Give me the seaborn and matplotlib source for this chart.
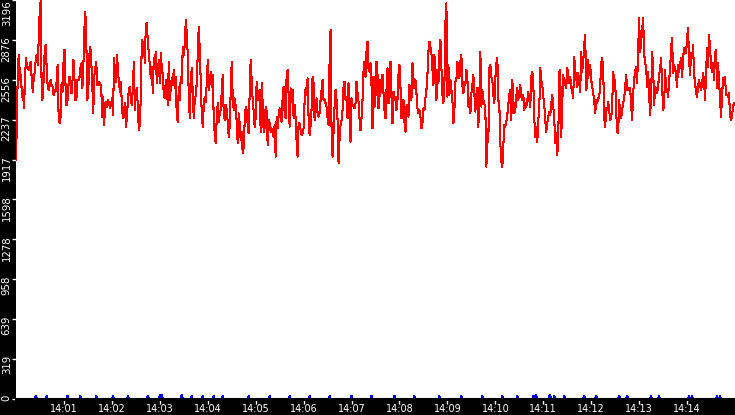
import numpy as np
import pandas as pd
import matplotlib
matplotlib.use("Agg")
import matplotlib.pyplot as plt
from matplotlib.transforms import ScaledTranslation
import seaborn as sns

# ---- red series in six 2.5-minute blocks ----
seg1 = [1914,
        2275, 2702, 2755, 2555, 2595, 2422, 2475, 2328, 2529, 2729,
        2675, 2649, 2635, 2675, 2702, 2542, 2462, 2582, 2622, 2729,
        2755, 2675, 2889, 3116, 3196, 2395, 2408, 2582, 2796, 2836,
        2649, 2502, 2475, 2515, 2555, 2515, 2502, 2435, 2475, 2462,
        2542, 2675, 2275, 2208, 2262, 2529, 2462, 2702, 2796, 2515,
        2355, 2395, 2515, 2582, 2555, 2448, 2542, 2715, 2569, 2395,
        2408, 2555, 2555, 2569, 2649, 2689, 2489, 2662, 2956, 3103,
        2876, 2395, 2462, 2755, 2822, 2702, 2529, 2288, 2582, 2649,
        2702, 2515, 2515, 2542, 2515, 2515, 2262, 2422, 2195, 2368,
        2382, 2342, 2395, 2368, 2328, 2368, 2408, 2275, 2729, 2609,
        2542, 2755, 2622, 2529, 2462, 2542, 2328, 2248, 2302, 2368,
        2181, 2262, 2395, 2475, 2502, 2395, 2355, 2502, 2702, 2315]
seg2 = [2448, 2489, 2342, 2155, 2195, 2435, 2876, 2809, 2862, 2689,
        2996, 3009, 2862, 2769, 2675, 2569, 2662, 2448, 2729, 2689,
        2782, 2529, 2622, 2715, 2529, 2769, 2649, 2595, 2435, 2408,
        2555, 2529, 2355, 2702, 2395, 2489, 2569, 2515, 2635, 2489,
        2582, 2248, 2221, 2502, 2395, 2582, 2529, 2822, 2755, 2836,
        3036, 2929, 2755, 2435, 2248, 2529, 2649, 2448, 2248, 2395,
        2435, 2529, 2769, 2982, 2796, 2542, 2288, 2181, 2342, 2422,
        2382, 2529, 2715, 2475, 2529, 2622, 2502, 2595, 2248, 2128,
        2048, 2248, 2368, 2221, 2288, 2315, 2462, 2595, 2288, 2235,
        2355, 2315, 2221, 2101, 2181, 2462, 2702, 2422, 2315, 2408,
        2342, 2221, 2048, 2288, 2208, 2075, 2141, 1968, 2021, 2221,
        2342, 2315, 2195, 2128, 2462, 2715, 2555, 2395, 2302, 2181]
seg3 = [2248, 2542, 2395, 2435, 2475, 2141, 2529, 2368, 2141, 2168,
        2342, 2302, 2035, 2235, 2208, 2141, 2168, 2128, 2101, 2195,
        1941, 2262, 2168, 2275, 2328, 2262, 2221, 2408, 2502, 2288,
        2248, 2595, 2635, 2435, 2181, 2489, 2382, 2475, 2248, 2355,
        2248, 2061, 1941, 2208, 2208, 2155, 2115, 2128, 2168, 2382,
        2489, 2435, 2569, 2248, 2115, 2195, 2328, 2582, 2529, 2235,
        2315, 2408, 2288, 2262, 2288, 2395, 2475, 2555, 2395, 2395,
        2368, 2342, 2248, 2195, 2702, 2956, 2155, 1941, 2141, 2342,
        2475, 2395, 2235, 1888, 2088, 2195, 2235, 2315, 2502, 2542,
        2395, 2422, 2248, 2529, 2248, 2061, 2408, 2355, 2342, 2328,
        2368, 2542, 2448, 2382, 2248, 2155, 2248, 2395, 2622, 2702,
        2582, 2782, 2862, 2649, 2622, 2689, 2515, 2168, 2582, 2342]
seg4 = [2435, 2702, 2595, 2328, 2422, 2555, 2462, 2595, 2448, 2315,
        2248, 2475, 2649, 2368, 2569, 2702, 2422, 2208, 2462, 2395,
        2422, 2315, 2395, 2595, 2675, 2502, 2248, 2395, 2395, 2221,
        2141, 2342, 2355, 2262, 2515, 2395, 2408, 2689, 2569, 2489,
        2555, 2448, 2328, 2288, 2315, 2262, 2168, 2208, 2328, 2315,
        2408, 2475, 2595, 2782, 2862, 2822, 2769, 2635, 2515, 2755,
        2555, 2395, 2635, 2529, 2782, 2876, 2662, 2435, 2368, 2515,
        3009, 3169, 2422, 2675, 2435, 2555, 2475, 2395, 2208, 2315,
        2542, 2555, 2702, 2622, 2569, 2702, 2755, 2515, 2448, 2542,
        2515, 2635, 2569, 2342, 2408, 2288, 2448, 2515, 2595, 2448,
        2302, 2435, 2489, 2181, 2435, 2782, 2342, 2475, 2395, 2368,
        2315, 1861, 2075, 2061, 2649, 2675, 2582, 2555, 2435, 2368]
seg5 = [2569, 2689, 2729, 2395, 2355, 2048, 1901, 1861, 2035, 2195,
        2181, 2221, 2275, 2355, 2435, 2475, 2235, 2555, 2395, 2288,
        2315, 2422, 2489, 2395, 2448, 2515, 2422, 2395, 2435, 2315,
        2368, 2342, 2395, 2462, 2395, 2342, 2582, 2622, 2529, 2248,
        2101, 2181, 2061, 2235, 2328, 2649, 2555, 2515, 2422, 2355,
        2235, 2141, 2208, 2262, 2302, 2275, 2368, 2435, 2342, 2248,
        2048, 2128, 1954, 2075, 2622, 2635, 2101, 2368, 2595, 2515,
        2555, 2489, 2649, 2595, 2529, 2582, 2502, 2462, 2408, 2742,
        2635, 2569, 2502, 2609, 2529, 2462, 2782, 2622, 2702, 2836,
        2916, 2475, 2515, 2715, 2595, 2675, 2555, 2502, 2448, 2395,
        2288, 2395, 2368, 2408, 2422, 2502, 2689, 2729, 2649, 2262,
        2181, 2328, 2315, 2382, 2315, 2235, 2248, 2355, 2622, 2542]
seg6 = [2555, 2302, 2141, 2128, 2395, 2288, 2248, 2315, 2368, 2408,
        2502, 2595, 2475, 2489, 2475, 2489, 2355, 2235, 2448, 2555,
        2622, 2662, 2529, 2782, 3049, 2782, 2862, 2956, 3049, 2769,
        2689, 2662, 2502, 2622, 2448, 2275, 2422, 2782, 2662, 2355,
        2502, 2475, 2448, 2502, 2595, 2649, 2729, 2529, 2315, 2342,
        2635, 2489, 2475, 2422, 2555, 2635, 2809, 2889, 2609, 2675,
        2649, 2595, 2502, 2675, 2622, 2675, 2729, 2582, 2729, 2809,
        2769, 2769, 2889, 2969, 2715, 2595, 2769, 2729, 2836, 2595,
        2542, 2448, 2422, 2502, 2555, 2515, 2475, 2515, 2609, 2555,
        2395, 2595, 2809, 2662, 2916, 2809, 2675, 2622, 2689, 2555,
        2769, 2796, 2489, 2689, 2555, 2408, 2262, 2408, 2569, 2542,
        2582, 2435, 2435, 2422, 2448, 2275, 2235, 2262, 2342, 2368]

# ---- blue series: near zero with small blips (seconds after 14:00) ----
blue_spike_seconds = [25, 39, 64, 81, 101, 122, 140, 165, 180, 182, 207, 220,
                      234, 247, 259, 291, 317, 342, 367, 392, 420, 445, 474,
                      499, 530, 557, 584, 609, 627, 647, 650, 651, 667, 669,
                      674, 686, 711, 726, 755, 765, 795, 805, 842, 846, 877, 881]
blue_spike_values = [24, 24, 24, 24, 24, 24, 24, 24, 32, 32, 32, 24,
                     24, 24, 24, 24, 24, 24, 24, 24, 24, 24, 24,
                     24, 24, 24, 24, 24, 24, 28, 28, 28, 28, 28,
                     24, 24, 24, 24, 24, 24, 24, 24, 24, 24, 24, 24]

y_tick_labels = ["0", "319", "639", "958", "1278", "1598", "1917",
                 "2237", "2556", "2876", "3196"]
x_tick_labels = ["14:01", "14:02", "14:03", "14:04", "14:05", "14:06", "14:07",
                 "14:08", "14:09", "14:10", "14:11", "14:12", "14:13", "14:14"]

day = "2024-01-01 "
start = pd.Timestamp(day + "14:00:00")
end = pd.Timestamp(day + "14:15:00")
block_seconds = 150

times, vals = [], []
for k, seg in enumerate([seg1, seg2, seg3, seg4, seg5, seg6]):
    n = len(seg)
    for i, v in enumerate(seg):
        times.append(start + pd.Timedelta(seconds=block_seconds * k + i * block_seconds / n))
        vals.append(v)
red = pd.DataFrame({"time": times, "value": vals})

tsec = np.array([(t - start).total_seconds() for t in times])
blue_vals = np.zeros(len(times))
for s, v in zip(blue_spike_seconds, blue_spike_values):
    blue_vals[int(np.argmin(np.abs(tsec - s)))] = v
blue = pd.DataFrame({"time": times, "value": blue_vals})

sns.set_style("white")
plt.rcParams["font.family"] = ["DejaVu Sans"]

W, H = 735, 415
fig = plt.figure(figsize=(W / 100, H / 100), dpi=100, facecolor="black")
ax = fig.add_axes([16 / W, 16 / H, 719 / W, 399 / H])
ax.set_facecolor("white")

sns.lineplot(data=blue, x="time", y="value", color="blue", lw=0.75,
             estimator=None, ax=ax, antialiased=False)
sns.lineplot(data=red, x="time", y="value", color="red", lw=0.75,
             estimator=None, ax=ax, antialiased=False)

ax.set_xlim(start, end)
ax.set_ylim(0, 3196)
ax.set_xlabel("")
ax.set_ylabel("")
ax.grid(False)
for s in ["top", "right", "left"]:
    ax.spines[s].set_visible(False)
ax.spines["bottom"].set_color("black")
ax.spines["bottom"].set_linewidth(2.2)
ax.spines["bottom"].set_zorder(5)

ax.set_yticks([int(l) for l in y_tick_labels])
ax.set_yticklabels(y_tick_labels)
ax.set_xticks([pd.Timestamp(day + l) for l in x_tick_labels])
ax.set_xticklabels(x_tick_labels)

ax.tick_params(axis="x", colors="white", length=3.6, width=1, pad=0.1,
               labelsize=6.9, direction="out", bottom=True)
ax.tick_params(axis="y", colors="white", length=2.9, width=1, pad=3.8,
               labelsize=7.3, direction="out", left=True, labelrotation=90)

for lab in ax.get_yticklabels():
    lab.set_rotation_mode("anchor")
    lab.set_ha("right")
    lab.set_va("center")
    if lab.get_text() != "3196":
        lab.set_transform(lab.get_transform() +
                          ScaledTranslation(0, 4 / 100, fig.dpi_scale_trans))

fig.savefig("out.png", dpi=100, facecolor="black")
